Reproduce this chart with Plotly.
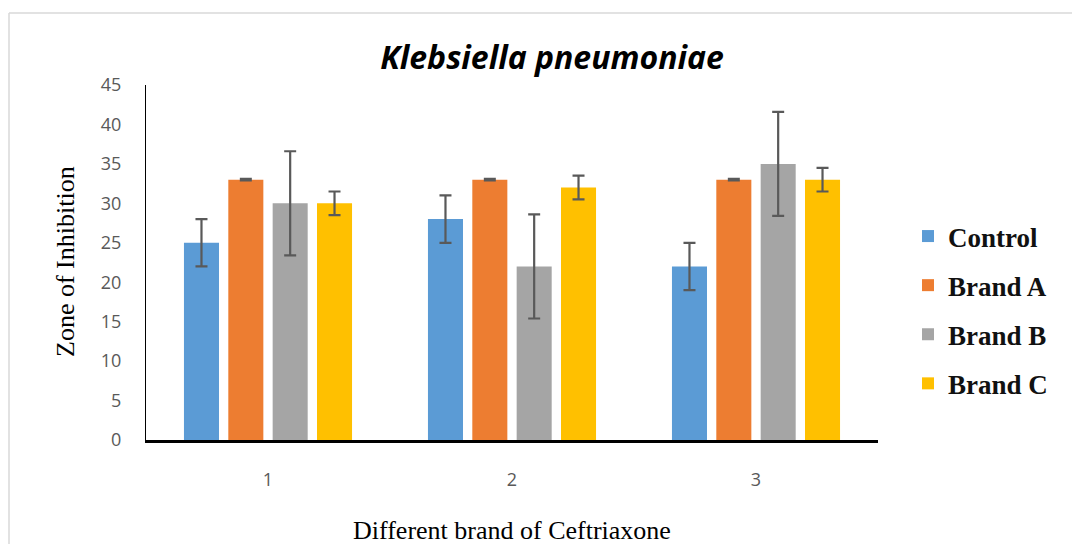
import plotly.graph_objects as go

categories = [1, 2, 3]
series_names = ["Control", "Brand A", "Brand B", "Brand C"]
control = [25, 28, 22]
brand_a = [33, 33, 33]
brand_b = [30, 22, 35]
brand_c = [30, 32, 33]
control_err = [3, 3, 3]
brand_a_err = [0.1, 0.1, 0.1]
brand_b_err = [6.6, 6.6, 6.6]
brand_c_err = [1.5, 1.5, 1.5]
colors = ["#5B9BD5", "#ED7D31", "#A5A5A5", "#FFC000"]
y_ticks = [0, 5, 10, 15, 20, 25, 30, 35, 40, 45]

values = [control, brand_a, brand_b, brand_c]
errors = [control_err, brand_a_err, brand_b_err, brand_c_err]

fig = go.Figure()
for name, vals, errs, col in zip(series_names, values, errors, colors):
    fig.add_trace(go.Bar(
        x=categories, y=vals, name=name, legendgroup=name,
        marker=dict(color=col, line=dict(width=0)),
        error_y=dict(type="data", array=errs, visible=True,
                     color="#595959", thickness=2.2, width=6),
    ))

# page body has an 8px margin, so the figure is offset by 8px
OFF = 8
W, H = 1080, 544
L, T = 146 - OFF, 85 - OFF
pw, ph = 732, 355
R = W - L - pw
B = H - T - ph

def px(x):
    return (x - OFF - L) / pw

def py(y):
    return (H - B - (y - OFF)) / ph

fig.update_layout(
    width=W, height=H,
    margin=dict(l=L, r=R, t=T, b=B, autoexpand=False),
    paper_bgcolor="white", plot_bgcolor="white",
    barmode="group", bargap=0.273, bargroupgap=0.21,
    showlegend=True,
    legend=dict(
        x=px(908), y=py(212), xanchor="left", yanchor="top",
        font=dict(family="Liberation Serif", size=27, color="#111111", weight="bold"),
        itemsizing="constant", tracegroupgap=11,
        itemwidth=30,
    ),
    title=dict(
        text="<b><i>Klebsiella pneumoniae</i></b>",
        x=(552 - OFF) / W, xanchor="center", y=1 - (58 - OFF) / H, yanchor="middle",
        font=dict(family="Open Sans", size=32, color="#000000"),
    ),
    xaxis=dict(
        range=[0.5, 3.5], tickvals=categories, ticktext=[str(c) for c in categories],
        showline=True, linecolor="#000000", linewidth=2.5,
        ticks="", showgrid=False, zeroline=False, automargin=False,
        tickfont=dict(family="Open Sans", size=18, color="#595959"),
        ticklabelstandoff=22,
    ),
    yaxis=dict(
        range=[0, 45], tickvals=y_ticks,
        showline=True, linecolor="#000000", linewidth=1.2,
        ticks="", showgrid=False, zeroline=False, automargin=False,
        tickfont=dict(family="Open Sans", size=18, color="#595959"),
        ticklabelstandoff=20,
    ),
    annotations=[
        dict(text="Zone of Inhibition", xref="paper", yref="paper",
             x=px(65), y=py(262), xanchor="center", yanchor="middle",
             textangle=-90, showarrow=False,
             font=dict(family="Liberation Serif", size=26, color="#000000")),
        dict(text="Different brand of Ceftriaxone", xref="paper", yref="paper",
             x=px(512), y=py(530), xanchor="center", yanchor="middle",
             showarrow=False,
             font=dict(family="Liberation Serif", size=26, color="#000000")),
    ],
)

# outer chart border (top and left edges visible)
fig.add_shape(type="line", xref="paper", yref="paper",
              x0=px(9), x1=px(1095), y0=py(13), y1=py(13),
              line=dict(color="#D9D9D9", width=1.5))
fig.add_shape(type="line", xref="paper", yref="paper",
              x0=px(9), x1=px(9), y0=py(13), y1=py(560),
              line=dict(color="#D9D9D9", width=1.5))

fig.write_html("out.html")
